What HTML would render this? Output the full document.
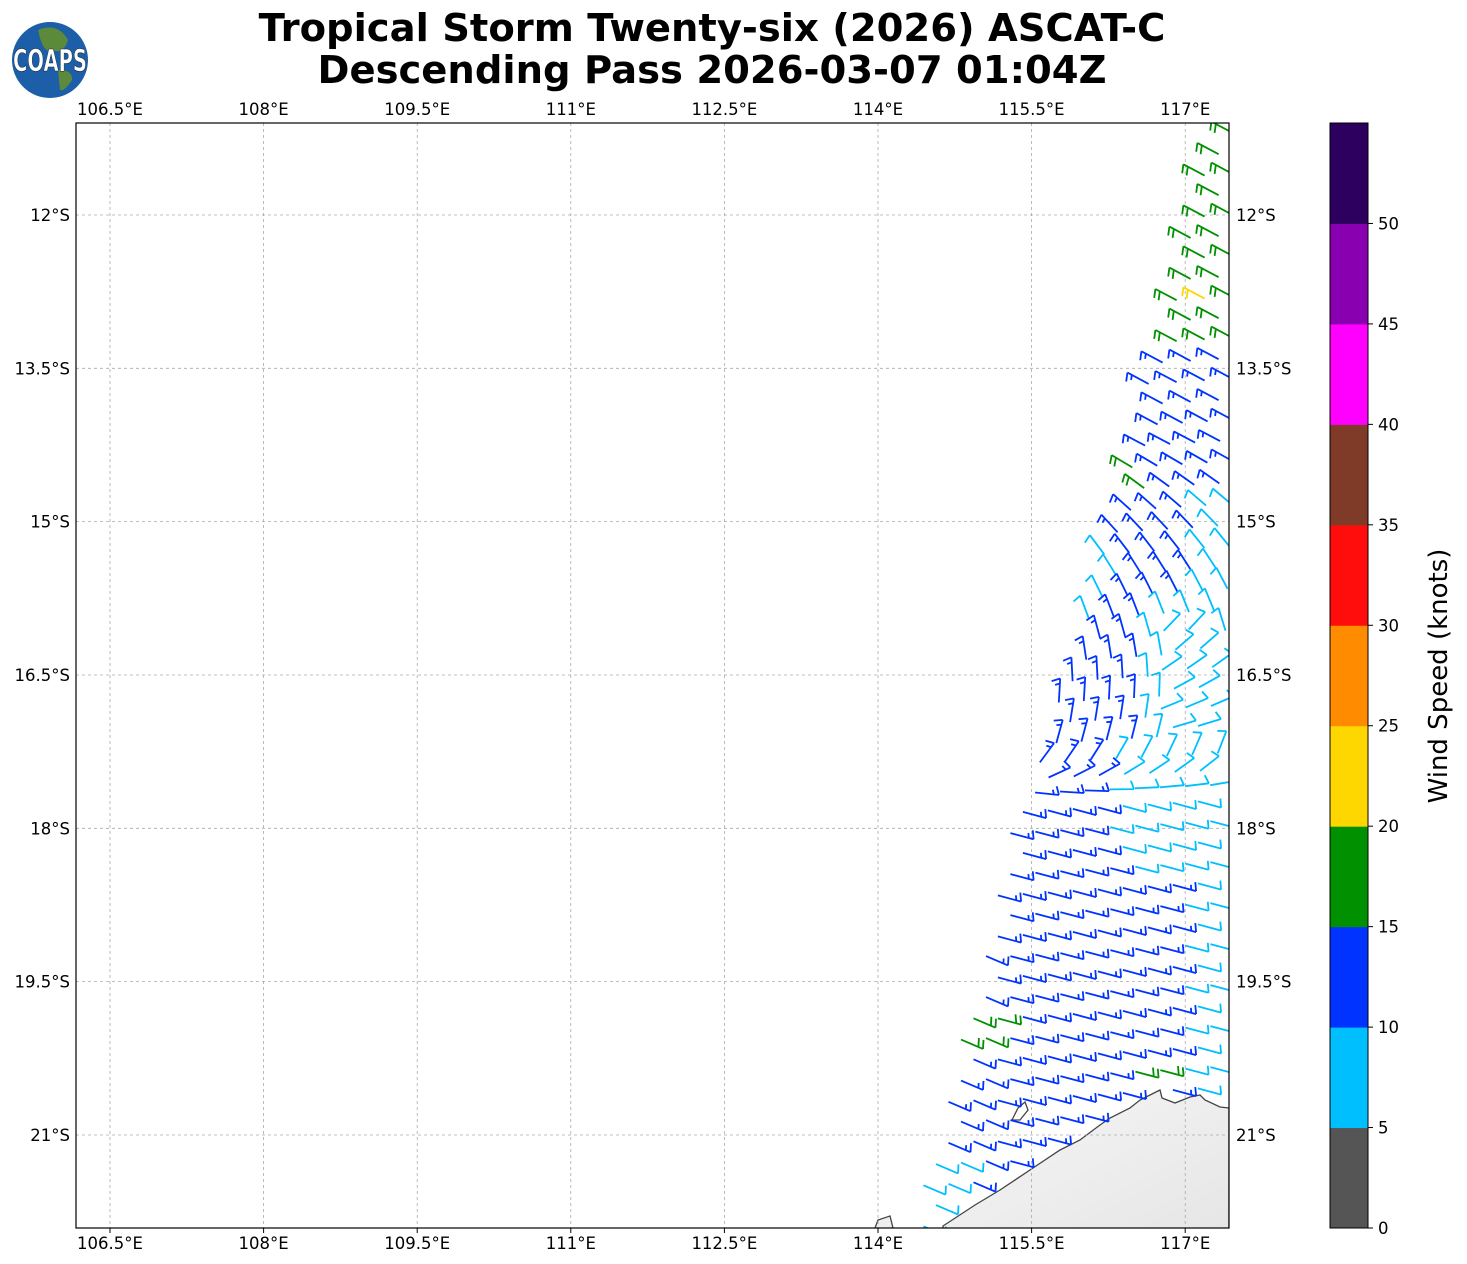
<!DOCTYPE html>
<html><head><meta charset="utf-8"><style>
body{margin:0;background:#fff;width:1467px;height:1264px;overflow:hidden}
svg{display:block;font-family:"DejaVu Sans","Liberation Sans",sans-serif}
</style></head><body>
<svg id="s" width="1467" height="1264" xmlns="http://www.w3.org/2000/svg">
<rect width="1467" height="1264" fill="#fff"/>
<text x="712" y="41" font-size="38.5" font-weight="bold" text-anchor="middle">Tropical Storm Twenty-six (2026) ASCAT-C</text>
<text x="712" y="83" font-size="38.5" font-weight="bold" text-anchor="middle">Descending Pass 2026-03-07 01:04Z</text>
<circle cx="50" cy="60" r="38" fill="#1c5fa8"/>
<path d="M38 30 q20 -8 30 10 q-5 15 -15 10 q-10 5 -15 -20z M58 70 q15 0 14 10 q-8 12 -12 10z" fill="#5d8a3a"/>
<text x="50" y="71" font-size="30" font-weight="bold" fill="#fff" stroke="#123" stroke-width="0.6" text-anchor="middle" textLength="74" lengthAdjust="spacingAndGlyphs">COAPS</text>
<defs><clipPath id="c"><rect x="76" y="123" width="1153" height="1105"/></clipPath>
<linearGradient id="lg" x1="0" y1="0" x2="1" y2="1"><stop offset="0" stop-color="#f6f6f6"/><stop offset="1" stop-color="#e6e6e6"/></linearGradient></defs>
<g clip-path="url(#c)">
<path d="M943 1226 L975 1205 L1000 1190 L1030 1170 L1060 1150 L1080 1140 L1100 1125 L1110 1118 L1130 1108 L1140 1100 L1160 1090 L1162 1098 L1175 1103 L1190 1097 L1200 1095 L1205 1100 L1220 1107 L1229 1108 L1229 1230 L943 1230Z" fill="url(#lg)" stroke="#444" stroke-width="1.3"/>
<path d="M875 1228 L878 1220 L890 1216 L893 1228" fill="#eee" stroke="#444" stroke-width="1.3"/>
<path d="M1012 1120 L1018 1108 L1025 1102 L1028 1110 L1020 1120 Z" fill="#fff" stroke="#444" stroke-width="1.3"/>
<g id="grid" stroke="#aaa" stroke-width="0.8" stroke-dasharray="3,3"></g>
<g id="barbs" stroke-width="1.8" fill="none" stroke-linecap="butt"></g>
</g>
<rect x="76" y="123" width="1153" height="1105" fill="none" stroke="#000" stroke-width="1.2"/>
<g id="ticks" font-size="16.5"></g>
<g id="cb"></g>
<text transform="translate(1447,676) rotate(-90)" font-size="26" text-anchor="middle">Wind Speed (knots)</text>
</svg>
<script>
var NS="http://www.w3.org/2000/svg";
function el(p,t,a,txt){var e=document.createElementNS(NS,t);for(var k in a)e.setAttribute(k,a[k]);if(txt!=null)e.textContent=txt;p.appendChild(e);return e;}
var g=document.getElementById('grid'),tk=document.getElementById('ticks');
var lons=["106.5","108","109.5","111","112.5","114","115.5","117"];
for(var i=0;i<8;i++){var x=110+i*153.6;
el(g,'line',{x1:x,y1:123,x2:x,y2:1228});
el(tk,'text',{x:x,y:115,'text-anchor':'middle'},lons[i]+"°E");
el(tk,'text',{x:x,y:1249,'text-anchor':'middle'},lons[i]+"°E");
el(tk,'line',{x1:x,y1:1228,x2:x,y2:1233,stroke:'#000'});}
var lats=["12","13.5","15","16.5","18","19.5","21"];
for(var i=0;i<7;i++){var y=215+i*153.33;
el(g,'line',{x1:76,y1:y,x2:1229,y2:y});
el(tk,'text',{x:70,y:y+6,'text-anchor':'end'},lats[i]+"°S");
el(tk,'text',{x:1236,y:y+6},lats[i]+"°S");}
var cb=document.getElementById('cb');
var cols=["#555555","#00bfff","#0033ff","#009000","#ffd700","#ff8c00","#ff0d0d","#7f3b28","#ff00ff","#8800b0","#2d0060"];
var cTop=123,cBot=1228,ch=(cBot-cTop)/11;
for(var i=0;i<11;i++){el(cb,'rect',{x:1330,y:cBot-(i+1)*ch,width:38,height:ch+0.5,fill:cols[i]});}
el(cb,'rect',{x:1330,y:cTop,width:38,height:cBot-cTop,fill:'none',stroke:'#000','stroke-width':1});
for(var v=0;v<=50;v+=5){var y=cBot-v/5*ch;el(cb,'line',{x1:1368,y1:y,x2:1373,y2:y,stroke:'#000'});
el(cb,'text',{x:1378,y:y+6,'font-size':16.5},String(v));}
var coast=[[943,1226],[975,1205],[1000,1190],[1030,1170],[1060,1150],[1080,1140],[1100,1125],[1110,1118],[1130,1108],[1140,1100],[1160,1090],[1175,1100],[1200,1095],[1229,1108]];
function coastY(x){if(x<943)return 1300;for(var i=0;i<coast.length-1;i++){var a=coast[i],b=coast[i+1];if(x>=a[0]&&x<=b[0])return a[1]+(b[1]-a[1])*(x-a[0])/(b[0]-a[0]);}return 1108;}
function ang(x,y){
 if(y<450)return 28;
 if(y<620)return 28+(y-450)/170*45;
 if(y<740){var a=73+(y-620)/120*35; if(x>1160)a+=60;return a;}
 if(y<800)return 108+(y-740)/60*87;
 return 195+(x<1000?8:0);}
function col(x,y){
 if(y<340)return (Math.abs(x-1200)<14&&Math.abs(y-292)<10)?"#ffd700":"#009000";
 if(y>460&&y<500&&x>1085&&x<1140)return "#009000";
 var le=1200-(y-123)*(280/1100);
 if(y>930&&y<1090&&x<le+40&&Math.round(x+y)%3==0)return "#009000";
 if(y>1070&&y<1095&&Math.abs(x-1160)<14)return "#009000";
 if(y>540&&y<620&&x<le+25)return "#00bfff";
 if(y>600&&y<760&&x>1140&&x<1200)return "#00bfff";
 if(y>740&&y<870&&x>1120)return "#00bfff";
 if(x>1195&&y>490&&y<1100)return "#00bfff";
 if(y>1160&&x<le+40)return "#00bfff";
 return "#0033ff";}
var B=document.getElementById('barbs');
var r=0;
for(var y=127;y<1228;y+=20.5,r++){
 var le=1200-(y-123)*(280/1100);
 var sp=y<400?28:25;
 for(var x=1222-((r%2)*sp/2);x>le;x-=sp){
  var yy=y+(1226-x)*0.06;
  if(yy>coastY(x)-4)continue;
  var a=ang(x,yy)*Math.PI/180,L=24;
  var c=col(x,yy);
  var dx=Math.cos(a),dy=Math.sin(a),fx=Math.cos(a+Math.PI/2-0.35),fy=Math.sin(a+Math.PI/2-0.35);
  var hx=x-dx*12,hy=yy-dy*12;
  var d="M"+hx.toFixed(1)+" "+hy.toFixed(1)+"L"+(hx+dx*L).toFixed(1)+" "+(hy+dy*L).toFixed(1);
  var n=c=="#00bfff"?1:2;
  for(var k=0;k<n;k++){var px=hx+dx*k*5,py=hy+dy*k*5,fl=(c=="#0033ff"&&k==1)?5:9;
   d+="M"+px.toFixed(1)+" "+py.toFixed(1)+"l"+(fx*fl).toFixed(1)+" "+(fy*fl).toFixed(1);}
  el(B,'path',{d:d,stroke:c});
 }}
</script>
</body></html>
